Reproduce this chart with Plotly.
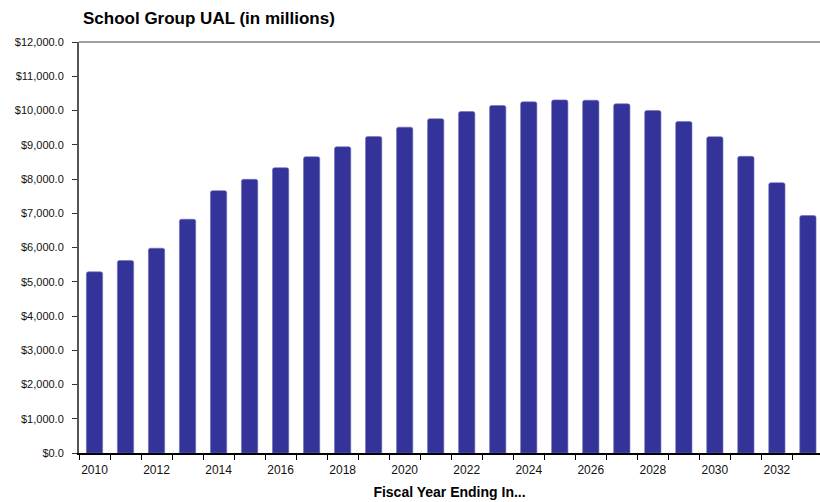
import plotly.graph_objects as go

# Fiscal years and unfunded actuarial liability (USD millions)
years = list(range(2010, 2034))
ual_millions = [
    5290, 5620, 5980, 6825, 7660, 7990, 8330, 8650, 8940, 9238,
    9514, 9760, 9970, 10146, 10253, 10310, 10300, 10195, 10000, 9680,
    9234, 8662, 7892, 6933,
]
label_years = list(range(2010, 2034, 2))
y_ticks = list(range(0, 12001, 1000))

title_text = "School Group UAL (in millions)"
x_title = "Fiscal Year Ending In..."

FONT = "Liberation Sans, Arial, sans-serif"
BAR_COLOR = "#333399"

fig = go.Figure(
    go.Bar(
        x=years,
        y=ual_millions,
        marker=dict(color=BAR_COLOR, line=dict(color="#7070b8", width=0.6)),
        hoverinfo="x+y",
    )
)

fig.update_layout(
    width=820,
    height=502,
    margin=dict(l=79, r=0, t=42, b=49),
    paper_bgcolor="white",
    plot_bgcolor="white",
    bargap=0.475,
    barcornerradius=2,
    showlegend=False,
    font=dict(family=FONT, size=11, color="#111111"),
    title=dict(
        text=f"<b>{title_text}</b>",
        x=83 / 820,
        xanchor="left",
        y=1 - 18 / 502,
        yanchor="middle",
        font=dict(family=FONT, size=17, color="#000000"),
    ),
)

fig.update_xaxes(
    range=[2009.5, 2033.39],
    tickmode="array",
    tickvals=label_years,
    ticktext=[str(v) for v in label_years],
    ticks="",
    showgrid=False,
    zeroline=False,
    showline=True,
    linecolor="#000000",
    linewidth=1.5,
    tickfont=dict(family=FONT, size=12, color="#111111"),
    ticklabelstandoff=5,
    minor=dict(
        tick0=2009.5,
        dtick=1,
        ticks="outside",
        ticklen=5,
        tickwidth=1,
        tickcolor="#000000",
        showgrid=False,
    ),
    title=dict(
        text=f"<b>{x_title}</b>",
        font=dict(family=FONT, size=14, color="#000000"),
        standoff=11,
    ),
)

fig.update_yaxes(
    range=[0, 12000],
    tickmode="array",
    tickvals=y_ticks,
    tickformat="$,.1f",
    ticks="outside",
    ticklen=5,
    tickwidth=1,
    tickcolor="#333333",
    showgrid=False,
    zeroline=False,
    showline=True,
    linecolor="#555555",
    linewidth=2,
    tickfont=dict(family=FONT, size=11, color="#111111"),
    ticklabelstandoff=6,
)

# Thin gray frame line along the top of the plotting area
fig.add_shape(
    type="line",
    xref="paper",
    yref="paper",
    x0=0,
    x1=1,
    y0=1,
    y1=1,
    line=dict(color="#a0a0a0", width=2),
)

fig.write_html("out.html")
